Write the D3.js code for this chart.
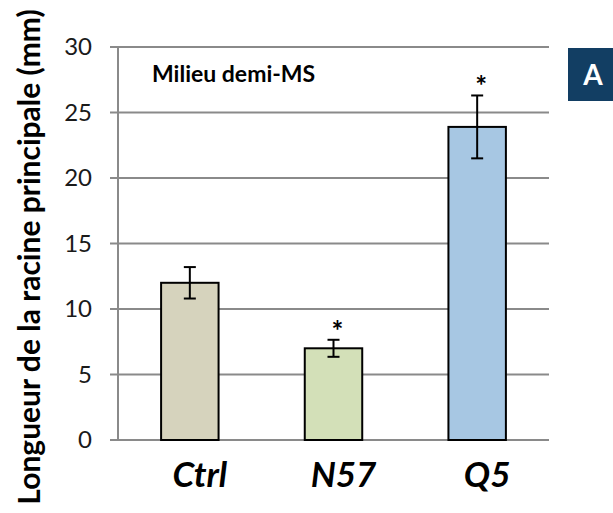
<!DOCTYPE html>
<html><head><meta charset="utf-8">
<script src="https://cdn.jsdelivr.net/npm/d3@7"></script>
<style>body{margin:0;background:#fff}svg{display:block}</style>
</head><body>
<script>
const categories = ["Ctrl", "N57", "Q5"];
const values = [12.0, 7.0, 23.9];
const errors = [1.2, 0.65, 2.4];
const significant = [false, true, true];
const colors = ["#d6d3bd", "#d3e0b8", "#a7c7e3"];
const yTicks = [0, 5, 10, 15, 20, 25, 30];
const yTitle = "Longueur de la racine principale (mm)";
const note = "Milieu demi-MS";
const panel = "A";

const W = 613, H = 513;
const m = {left: 118, right: 64, top: 47, bottom: 73};
const svg = d3.select("body").append("svg").attr("width", W).attr("height", H);

const x = d3.scaleBand().domain(categories).range([m.left, W - m.right]).paddingInner(0.6).paddingOuter(0.3);
const y = d3.scaleLinear().domain([0, 30]).range([H - m.bottom, m.top]);

const font = "Lato, 'Open Sans', sans-serif";

// gridlines
svg.append("g").selectAll("line").data(yTicks).join("line")
  .attr("x1", m.left - 8).attr("x2", W - m.right)
  .attr("y1", d => y(d)).attr("y2", d => y(d))
  .attr("stroke", "#8a8a8a").attr("stroke-width", 2);

// y axis line
svg.append("line").attr("x1", m.left).attr("x2", m.left)
  .attr("y1", y(0)).attr("y2", y(30)).attr("stroke", "#8a8a8a").attr("stroke-width", 2);

// y tick labels
const yAxis = d3.axisLeft(y).tickValues(yTicks).tickSize(0).tickPadding(26);
const ga = svg.append("g").attr("transform", `translate(${m.left},0)`).call(yAxis);
ga.select(".domain").remove();
ga.selectAll("text").attr("font-family", font).attr("font-size", 24).attr("fill", "#1a1a1a");

// bars
svg.append("g").selectAll("rect").data(categories).join("rect")
  .attr("x", d => x(d)).attr("width", x.bandwidth())
  .attr("y", (d, i) => y(values[i])).attr("height", (d, i) => y(0) - y(values[i]))
  .attr("fill", (d, i) => colors[i]).attr("stroke", "#000").attr("stroke-width", 2);

// error bars
const eg = svg.append("g").attr("stroke", "#000").attr("stroke-width", 2);
categories.forEach((c, i) => {
  const cx = x(c) + x.bandwidth() / 2;
  eg.append("line").attr("x1", cx).attr("x2", cx).attr("y1", y(values[i] + errors[i])).attr("y2", y(values[i] - errors[i]));
  eg.append("line").attr("x1", cx - 6).attr("x2", cx + 6).attr("y1", y(values[i] + errors[i])).attr("y2", y(values[i] + errors[i]));
  eg.append("line").attr("x1", cx - 6).attr("x2", cx + 6).attr("y1", y(values[i] - errors[i])).attr("y2", y(values[i] - errors[i]));
  if (significant[i]) {
    svg.append("text").attr("x", cx + 4).attr("y", y(values[i] + errors[i]) + 1)
      .attr("text-anchor", "middle").attr("font-family", font).attr("font-weight", "bold")
      .attr("font-size", 28).text("*");
  }
});

// category labels
svg.append("g").selectAll("text").data(categories).join("text")
  .attr("x", d => x(d) + x.bandwidth() / 2 + 10).attr("y", 487)
  .attr("text-anchor", "middle").attr("font-family", font).attr("font-weight", "bold")
  .attr("font-style", "italic").attr("font-size", 35).text(d => d);

// note
svg.append("text").attr("x", 152).attr("y", 82).attr("font-family", font)
  .attr("font-weight", "bold").attr("font-size", 23).text(note);

// y title
svg.append("text").attr("transform", `translate(40,257) rotate(-90)`)
  .attr("text-anchor", "middle").attr("font-family", font).attr("font-weight", "bold")
  .attr("font-size", 30).text(yTitle);

// panel badge
svg.append("rect").attr("x", 568).attr("y", 48).attr("width", 45).attr("height", 53).attr("fill", "#123e63");
svg.append("text").attr("x", 593).attr("y", 85).attr("text-anchor", "middle").attr("font-family", font)
  .attr("font-weight", "bold").attr("font-size", 28).attr("fill", "#fff").text(panel);
</script>
</body></html>
